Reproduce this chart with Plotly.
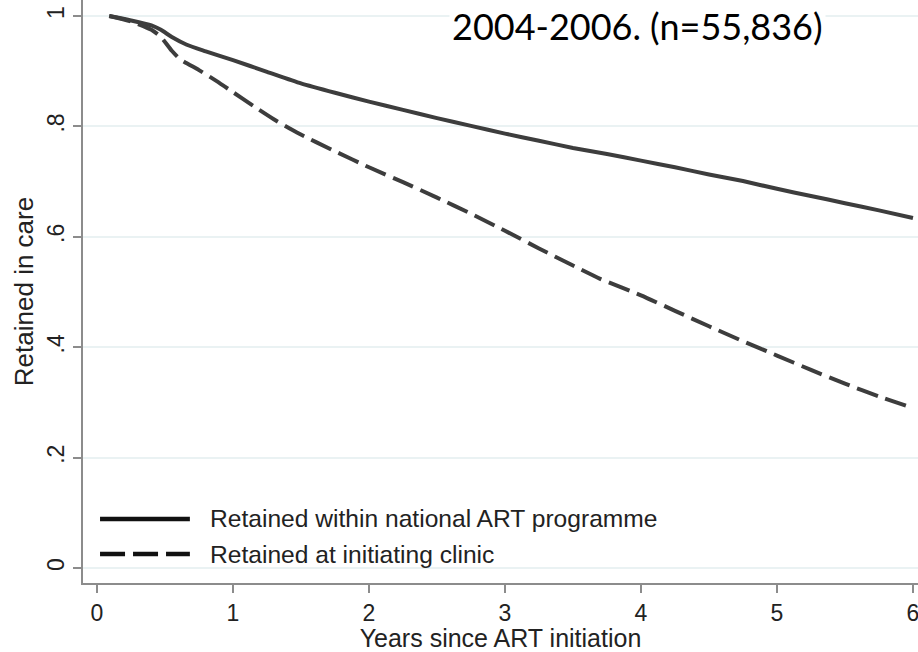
import plotly.graph_objects as go

# Years since ART initiation
years_national = [0.09, 0.25, 0.40, 0.47, 0.55, 0.66, 0.80, 1.00, 1.25, 1.50, 1.75,
                  2.00, 2.25, 2.50, 2.75, 3.00, 3.25, 3.50, 3.75, 4.00, 4.25, 4.50,
                  4.75, 5.00, 5.25, 5.50, 5.75, 6.00]
retained_national = [1.000, 0.992, 0.983, 0.975, 0.962, 0.948, 0.936, 0.920, 0.899,
                     0.878, 0.861, 0.845, 0.830, 0.815, 0.801, 0.787, 0.774, 0.761,
                     0.750, 0.738, 0.726, 0.713, 0.701, 0.687, 0.674, 0.661, 0.648,
                     0.634]

years_clinic = [0.09, 0.25, 0.40, 0.47, 0.55, 0.61, 0.75, 0.88, 1.00, 1.15, 1.30,
                1.47, 1.75, 2.00, 2.25, 2.50, 2.75, 3.00, 3.25, 3.50, 3.70, 4.00,
                4.25, 4.50, 4.75, 5.00, 5.25, 5.50, 5.75, 6.00]
retained_clinic = [1.000, 0.990, 0.975, 0.962, 0.937, 0.922, 0.902, 0.882, 0.862,
                   0.837, 0.813, 0.789, 0.755, 0.726, 0.699, 0.671, 0.642, 0.611,
                   0.579, 0.548, 0.524, 0.494, 0.466, 0.438, 0.411, 0.385, 0.359,
                   0.334, 0.311, 0.290]

x_ticks = [0, 1, 2, 3, 4, 5, 6]
y_ticks = [0, 0.2, 0.4, 0.6, 0.8, 1.0]
y_tick_labels = ["0", ".2", ".4", ".6", ".8", "1"]

series_names = ["Retained within national ART programme", "Retained at initiating clinic"]
subtitle = "2004-2006. (n=55,836)"

LINE = "#3d3d3d"
KEY = "#111111"
GRID = "#eaf2f3"
AXIS = "#8c8c8c"
FONT = "Liberation Sans, Arial, sans-serif"

fig = go.Figure()
fig.add_trace(go.Scatter(x=years_national, y=retained_national, mode="lines",
                         name=series_names[0], showlegend=False,
                         line=dict(color=LINE, width=4, shape="spline", smoothing=0.6)))
fig.add_trace(go.Scatter(x=years_clinic, y=retained_clinic, mode="lines",
                         name=series_names[1], showlegend=False,
                         line=dict(color=LINE, width=4, dash="22px,8px",
                                   shape="spline", smoothing=0.6)))

# Legend keys drawn as long line samples in the lower-left corner
key_rows = [(0.1098, "solid"), (0.0497, "25px,8px")]
for (ky, dash), label in zip(key_rows, series_names):
    fig.add_shape(type="line", xref="paper", yref="paper",
                  x0=0.0204, x1=0.128, y0=ky, y1=ky,
                  line=dict(color=KEY, width=4.5, dash=dash))
    fig.add_annotation(xref="paper", yref="paper", x=0.1497, y=ky, text=label,
                       showarrow=False, xanchor="left", yanchor="middle",
                       font=dict(family=FONT, size=24.6, color="#222222"))

fig.add_annotation(xref="paper", yref="paper", x=0.6635, y=0.955, text=subtitle,
                   showarrow=False, xanchor="center", yanchor="middle",
                   bgcolor="white", borderpad=2,
                   font=dict(family="Lato, sans-serif", size=36, color="#000000"))

fig.update_layout(
    width=918, height=652,
    margin=dict(l=83, r=0, t=0, b=69),
    paper_bgcolor="white", plot_bgcolor="white",
    font=dict(family=FONT, color="#222222"),
    xaxis=dict(range=[-0.103, 6.037], tickvals=x_ticks, ticks="outside", ticklen=8,
               tickwidth=2, tickcolor=AXIS, showline=True, linecolor=AXIS, linewidth=2,
               showgrid=False, zeroline=False, tickfont=dict(size=23),
               ticklabeloverflow="allow",
               title=dict(text="Years since ART initiation", font=dict(size=25), standoff=2)),
    yaxis=dict(range=[-0.027, 1.029], tickvals=y_ticks, ticktext=y_tick_labels,
               tickangle=-90, ticks="outside", ticklen=8, tickwidth=2, tickcolor=AXIS,
               showline=True, linecolor=AXIS, linewidth=2,
               showgrid=True, gridcolor=GRID, gridwidth=2, zeroline=False,
               tickfont=dict(size=23),
               title=dict(text="Retained in care", font=dict(size=26), standoff=2)),
)

fig.write_html("out.html")
